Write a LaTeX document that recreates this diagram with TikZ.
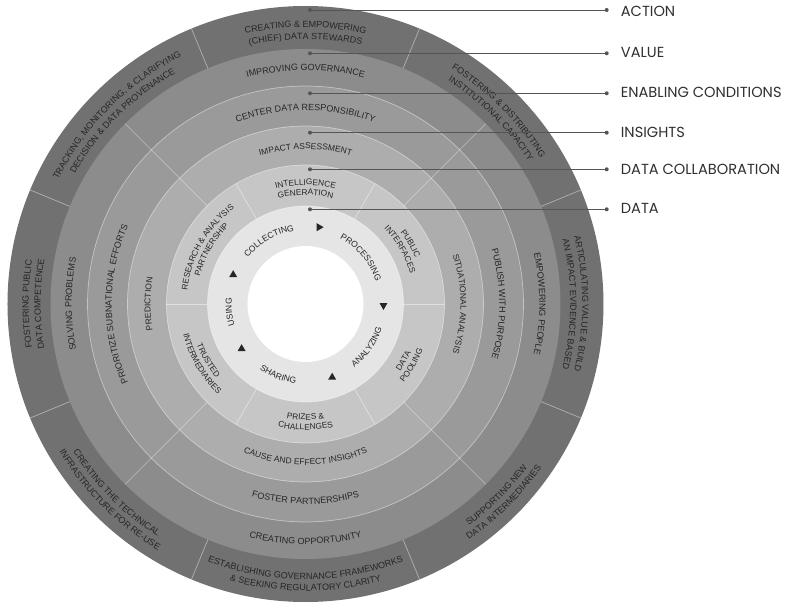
\documentclass[tikz,border=0pt]{standalone}
\usepackage{fontspec}
\setmainfont{Liberation Sans}
\newfontfamily\legendfont{Poppins}
\usetikzlibrary{decorations.text}
\definecolor{cAct}{HTML}{717171}
\definecolor{cVal}{HTML}{8C8C8C}
\definecolor{cEna}{HTML}{9A9A9A}
\definecolor{cIns}{HTML}{ADADAD}
\definecolor{cCol}{HTML}{C6C6C6}
\definecolor{cDat}{HTML}{E5E5E5}
\definecolor{txt}{HTML}{262626}
\definecolor{legtxt}{HTML}{303030}
\definecolor{legline}{HTML}{555555}
\newcommand\fA{\fontsize{9}{10}\selectfont\color{txt}}
\newcommand\fV{\fontsize{9}{10}\selectfont\color{txt}}
\newcommand\fE{\fontsize{9}{10}\selectfont\color{txt}}
\newcommand\fI{\fontsize{8.5}{10}\selectfont\color{txt}}
\newcommand\fC{\fontsize{8.3}{10}\selectfont\color{txt}}
\newcommand\fD{\fontsize{8.6}{10}\selectfont\color{txt}}
% clockwise arc text: font, baseline radius, centre angle, half span, text
\newcommand\cwtext[5]{%
  \path[decorate,decoration={text along path,text align=center,text={|#1|#5}}]
    ({#3+#4}:#2pt) arc[start angle={#3+#4}, end angle={#3-#4}, radius=#2pt];}
% counter-clockwise arc text (bottom half, upright)
\newcommand\ccwtext[5]{%
  \path[decorate,decoration={text along path,text align=center,text={|#1|#5}}]
    ({#3-#4}:#2pt) arc[start angle={#3-#4}, end angle={#3+#4}, radius=#2pt];}
\newcommand\cyctri[2]{% position angle, pointing direction
  \fill[txt,shift={(#1:78pt)},rotate=#2] (0:4.6pt) -- (120:4.6pt) -- (240:4.6pt) -- cycle;}
\tikzset{
  sep/.style={draw=white,draw opacity=0.45,line width=0.7pt},
  legdot/.style={circle,fill=legline,inner sep=0pt,minimum size=4pt},
  legline/.style={draw=legline,line width=0.8pt},
  leglabel/.style={anchor=base west,inner sep=0pt,text=legtxt,font=\legendfont\fontsize{14.6}{16}\selectfont}
}
\begin{document}
\begin{tikzpicture}[x=1pt,y=1pt]
\useasboundingbox (-305.5,-304) rectangle (490.5,304);
\fill[white] (-305.5,-304) rectangle (490.5,304);
% rings
\fill[cAct] (0,0) circle[radius=298pt];
\fill[cVal] (0,0) circle[radius=255pt];
\fill[cEna] (0,0) circle[radius=218pt];
\fill[cIns] (0,0) circle[radius=178pt];
\fill[cCol] (0,0) circle[radius=139pt];
\fill[cDat] (0,0) circle[radius=98pt];
\fill[white] (0,0) circle[radius=58pt];
% ring boundaries
\foreach \r in {98,139,178,218} \draw[sep] (0,0) circle[radius=\r pt];
% dividers
\foreach \a in {22.5,67.5,...,337.5} \draw[sep] (\a:255pt) -- (\a:298pt);
\foreach \a in {45,135,225,315} \draw[sep] (\a:139pt) -- (\a:255pt);
\foreach \a in {0,60,...,300} \draw[sep] (\a:98pt) -- (\a:139pt);
% ACTION
\cwtext{\fA}{276.8}{90}{30}{CREATING {\&} EMPOWERING}
\cwtext{\fA}{264.8}{90}{30}{(CHIEF) DATA STEWARDS}
\cwtext{\fA}{276.8}{45}{30}{FOSTERING {\&} DISTRIBUTING}
\cwtext{\fA}{264.8}{45}{30}{INSTITUTIONAL CAPACITY}
\cwtext{\fA}{276.8}{0}{30}{ARTICULATING VALUE {\&} BUILD}
\cwtext{\fA}{264.8}{0}{30}{AN IMPACT EVIDENCE BASED}
\ccwtext{\fA}{275.5}{-45}{30}{SUPPORTING NEW}
\ccwtext{\fA}{287}{-45}{30}{DATA INTERMEDIARIES}
\ccwtext{\fA}{275.5}{-90}{30}{ESTABLISHING GOVERNANCE FRAMEWORKS}
\ccwtext{\fA}{287}{-90}{30}{{\&} SEEKING REGULATORY CLARITY}
\ccwtext{\fA}{275.5}{-135}{30}{CREATING THE TECHNICAL}
\ccwtext{\fA}{287}{-135}{30}{INFRASTRUCTURE FOR RE-USE}
\cwtext{\fA}{276.8}{180}{30}{FOSTERING PUBLIC}
\cwtext{\fA}{264.8}{180}{30}{DATA COMPETENCE}
\cwtext{\fA}{276.8}{135}{30}{TRACKING, MONITORING, {\&} CLARIFYING}
\cwtext{\fA}{264.8}{135}{30}{DECISION {\&} DATA PROVENANCE}
% VALUE
\cwtext{\fV}{233.8}{90}{40}{IMPROVING GOVERNANCE}
\cwtext{\fV}{233.8}{0}{40}{EMPOWERING PEOPLE}
\ccwtext{\fV}{240.2}{-90}{40}{CREATING OPPORTUNITY}
\cwtext{\fV}{233.8}{180}{40}{SOLVING PROBLEMS}
% ENABLING CONDITIONS
\cwtext{\fE}{193.8}{90}{40}{CENTER DATA RESPONSIBILITY}
\cwtext{\fE}{193.8}{0}{40}{PUBLISH WITH PURPOSE}
\ccwtext{\fE}{200.2}{-90}{40}{FOSTER PARTNERSHIPS}
\cwtext{\fE}{193.8}{180}{40}{PRIORITIZE SUBNATIONAL EFFORTS}
% INSIGHTS
\cwtext{\fI}{155}{90}{40}{IMPACT ASSESSMENT}
\cwtext{\fI}{155}{0}{40}{SITUATIONAL ANALYSIS}
\ccwtext{\fI}{161}{-90}{40}{CAUSE AND EFFECT INSIGHTS}
\cwtext{\fI}{155}{180}{40}{PREDICTION}
% DATA COLLABORATION
\cwtext{\fC}{119}{90}{30}{INTELLIGENCE}
\cwtext{\fC}{109}{90}{30}{GENERATION}
\cwtext{\fC}{119}{30}{30}{PUBLIC}
\cwtext{\fC}{109}{30}{30}{INTERFACES}
\ccwtext{\fC}{116}{-30}{30}{DATA}
\ccwtext{\fC}{126}{-30}{30}{POOLING}
\ccwtext{\fC}{116}{-90}{30}{PRIZES {\&}}
\ccwtext{\fC}{126}{-90}{30}{CHALLENGES}
\ccwtext{\fC}{116}{-150}{30}{TRUSTED}
\ccwtext{\fC}{126}{-150}{30}{INTERMEDIARIES}
\cwtext{\fC}{119}{150}{32}{RESEARCH {\&} ANALYSIS}
\cwtext{\fC}{109}{150}{32}{PARTNERSHIP}
% DATA
\cwtext{\fD}{73.9}{120}{40}{COLLECTING}
\cwtext{\fD}{73.9}{40}{40}{PROCESSING}
\ccwtext{\fD}{80.1}{-35}{40}{ANALYZING}
\ccwtext{\fD}{80.1}{-111}{40}{SHARING}
\cwtext{\fD}{73.9}{186}{40}{USING}
% cycle arrows
\cyctri{80}{0}
\cyctri{-1}{-90}
\cyctri{-70}{90}
\cyctri{215}{90}
\cyctri{158}{90}
% legend
\node[legdot] (d1a) at (4.5,294) {};
\node[legdot] (d1b) at (301.2,294) {};
\node[leglabel] (l1) at (315.2,287.3) {ACTION};
\node[legdot] (d2a) at (4.5,250.7) {};
\node[legdot] (d2b) at (301.2,250.7) {};
\node[leglabel] (l2) at (315.2,246) {VALUE};
\node[legdot] (d3a) at (4.5,210.7) {};
\node[legdot] (d3b) at (301.2,210.7) {};
\node[leglabel] (l3) at (315.2,206) {ENABLING CONDITIONS};
\node[legdot] (d4a) at (4.5,171.3) {};
\node[legdot] (d4b) at (301.2,171.3) {};
\node[leglabel] (l4) at (315.2,166) {INSIGHTS};
\node[legdot] (d5a) at (4.5,134.7) {};
\node[legdot] (d5b) at (301.2,134.7) {};
\node[leglabel] (l5) at (315.2,129) {DATA COLLABORATION};
\node[legdot] (d6a) at (4.5,94.7) {};
\node[legdot] (d6b) at (301.2,94.7) {};
\node[leglabel] (l6) at (315.2,90) {DATA};
\draw[legline] (d1a) -- (d1b);
\draw[legline] (d2a) -- (d2b);
\draw[legline] (d3a) -- (d3b);
\draw[legline] (d4a) -- (d4b);
\draw[legline] (d5a) -- (d5b);
\draw[legline] (d6a) -- (d6b);
\end{tikzpicture}
\end{document}
